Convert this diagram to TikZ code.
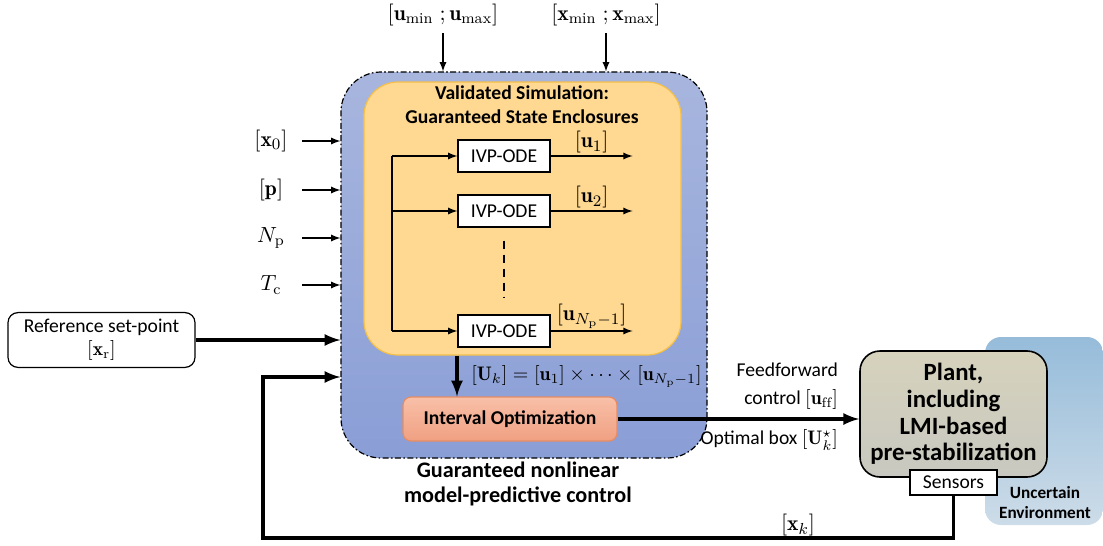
\documentclass[tikz,border=0pt]{standalone}
\usepackage{fontspec}
\setsansfont{Carlito}
\usetikzlibrary{arrows, positioning}

\definecolor{mpcTop}{RGB}{168,182,222}
\definecolor{mpcBot}{RGB}{138,158,214}
\definecolor{simFill}{RGB}{255,217,145}
\definecolor{simBorder}{RGB}{244,192,74}
\definecolor{optTop}{RGB}{248,192,168}
\definecolor{optBot}{RGB}{240,160,130}
\definecolor{optBorder}{RGB}{230,140,100}
\definecolor{plantTop}{RGB}{214,210,188}
\definecolor{plantBot}{RGB}{200,200,192}
\definecolor{envTop}{RGB}{150,188,218}
\definecolor{envBot}{RGB}{205,220,232}

\begin{document}
\begin{tikzpicture}[x=0.5pt, y=-0.5pt,
  every node/.style={font=\sffamily\fontsize{9.8}{11.5}\selectfont},
  mathlabel/.style={font=\fontsize{10.8}{12}\selectfont},
  thin arrow/.style={-latex, line width=0.6pt},
  thick arrow/.style={-latex, line width=1.7pt},
  ode/.style={draw, fill=white, line width=0.6pt, minimum width=46pt, minimum height=16pt, inner sep=0pt},
  title/.style={font=\sffamily\bfseries\fontsize{9.8}{12}\selectfont, align=center}]

  \useasboundingbox (0,0) rectangle (1103,546);

  % controller
  \node[draw, dash pattern=on 3pt off 1.2pt on 0.8pt off 1.2pt, line width=0.6pt, rounded corners=20pt,
    top color=mpcTop, bottom color=mpcBot, minimum width=183pt, minimum height=193pt] (mpc) at (524,265) {};
  \node[draw=simBorder, line width=0.6pt, rounded corners=17pt, fill=simFill,
    minimum width=158.5pt, minimum height=136.5pt] (sim) at (522.5,218.5) {};
  \node[title] (simtitle) at (522,105) {Validated Simulation:\\Guaranteed State Enclosures};

  \node[ode] (ode1) at (504,156) {IVP-ODE};
  \node[ode] (ode2) at (504,211) {IVP-ODE};
  \node[ode] (ode3) at (504,331) {IVP-ODE};

  \coordinate (bus) at (392,156);
  \draw[line width=0.6pt] (bus) -- (bus |- ode3);
  \foreach \n in {1,2,3}
    \draw[thin arrow] (bus |- ode\n) -- (ode\n.west);

  \draw[thin arrow] (ode1.east) -- ++(82,0) node[midway, above, inner sep=1pt, mathlabel] {$[\mathbf{u}_1]$};
  \draw[thin arrow] (ode2.east) -- ++(82,0) node[midway, above, inner sep=1pt, mathlabel] {$[\mathbf{u}_2]$};
  \draw[thin arrow] (ode3.east) -- ++(82,0) node[midway, above, inner sep=1pt, mathlabel] {$[\mathbf{u}_{N_\mathrm{p}-1}]$};
  \draw[dashed, dash pattern=on 4pt off 3pt, line width=0.9pt] ([yshift=-6.5pt]ode2.south) -- ([yshift=8.5pt]ode3.north);

  \node[draw=optBorder, line width=0.6pt, rounded corners=4pt, top color=optTop, bottom color=optBot,
    minimum width=107pt, minimum height=22pt, title] (iopt) at (510,419) {Interval Optimization};

  \coordinate (down) at ([xshift=-26.5pt]iopt.north);
  \draw[thick arrow] (down |- sim.south) -- (down)
    node[midway, right=3pt] {$[\mathbf{U}_k]=[\mathbf{u}_1]\times\cdots\times[\mathbf{u}_{N_\mathrm{p}-1}]$};

  \node[font=\sffamily\bfseries\fontsize{11.1}{12.5}\selectfont, align=center] (mpclabel) at (518,484)
    {Guaranteed nonlinear\\model-predictive control};

  % inputs
  \node[mathlabel] (ulim) at (443,15) {$[\mathbf{u}_{\min}\;;\mathbf{u}_{\max}]$};
  \node[mathlabel] (xlim) at (606,15) {$[\mathbf{x}_{\min}\;;\mathbf{x}_{\max}]$};
  \draw[thin arrow] (ulim.south) -- (ulim.south |- mpc.north);
  \draw[thin arrow] (xlim.south) -- (xlim.south |- mpc.north);

  \node[mathlabel] (x0) at (271,141) {$[\mathbf{x}_0]$};
  \node[mathlabel] (p) at (271,190) {$[\mathbf{p}]$};
  \node[mathlabel] (np) at (271,238) {$N_\mathrm{p}$};
  \node[mathlabel] (tc) at (271,285) {$T_\mathrm{c}$};
  \coordinate (instart) at (302,0);
  \foreach \v in {x0,p,np,tc}
    \draw[thin arrow] (\v -| instart) -- (\v -| mpc.west);

  \node[draw, line width=0.6pt, rounded corners=5pt, minimum width=93.5pt, minimum height=27pt, align=center]
    (ref) at (101.5,340) {Reference set-point\\$[\mathbf{x}_\mathrm{r}]$};
  \draw[thick arrow] (ref.east) -- (ref.east -| mpc.west);

  % plant
  \node[rounded corners=8pt, top color=envTop, bottom color=envBot, minimum width=59pt, minimum height=94pt] (env) at (1044,431) {};
  \node[font=\sffamily\bfseries\fontsize{8.6}{10}\selectfont, align=center] (envlabel) at (1045,503) {Uncertain\\Environment};
  \node[draw, line width=0.8pt, rounded corners=10pt, top color=plantTop, bottom color=plantBot, minimum width=93.5pt, minimum height=63pt,
    inner sep=2pt, align=center, font=\sffamily\bfseries\fontsize{12.4}{13.4}\selectfont] (plant) at (953.5,414)
    {Plant,\\including\\LMI-based\\pre-stabilization};
  \node[draw, fill=white, line width=0.6pt, minimum width=43.5pt, minimum height=12.5pt, inner sep=0pt] (sensors) at (953.5,482.5) {Sensors};

  \coordinate (plantin) at (iopt.east -| plant.west);
  \draw[-latex, line width=1.7pt] (iopt.east) -- (plantin);
  \node[anchor=east, align=right, font=\sffamily\fontsize{9.8}{14}\selectfont] (ff) at (845,386) {Feedforward\\control $[\mathbf{u}_\mathrm{ff}]$};
  \node[anchor=east] (ubox) at (845,440) {Optimal box $[\mathbf{U}_k^\star]$};

  % feedback
  \coordinate (fbcorner) at (263,538);
  \coordinate (fbin) at (mpc.west |- 0,377);
  \draw[thick arrow] (sensors.south) |- (fbcorner) |- (fbin);
  \node[mathlabel] (xk) at (798,525) {$[\mathbf{x}_k]$};
\end{tikzpicture}
\end{document}
